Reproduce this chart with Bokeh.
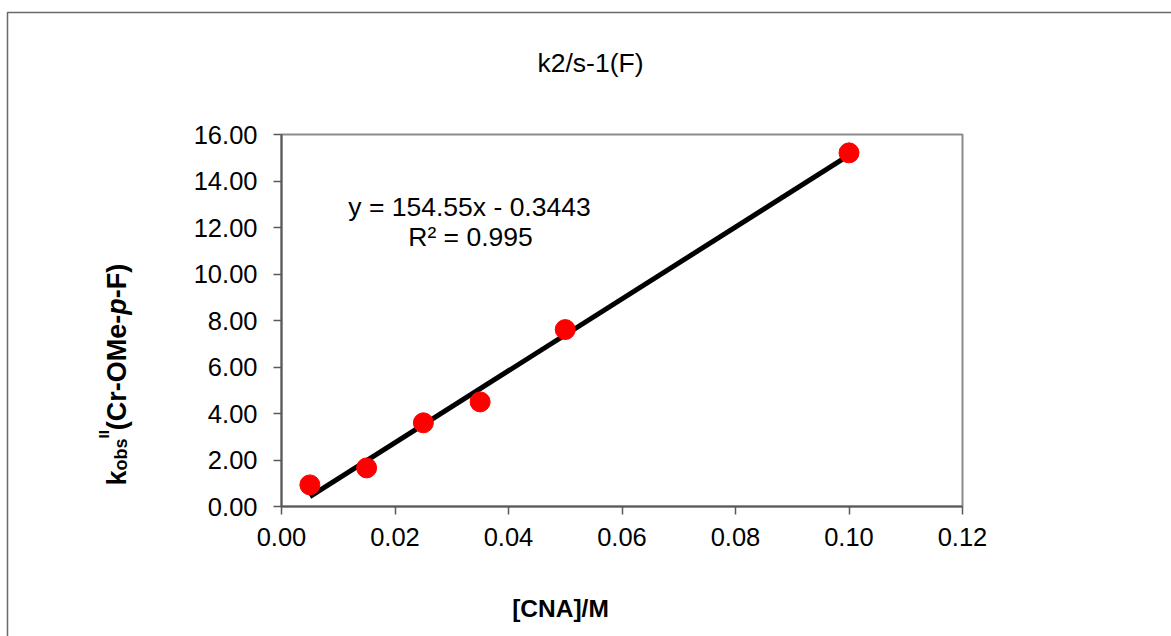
import math

from bokeh.plotting import figure
from bokeh.models import Range1d, Label, BoxAnnotation, FixedTicker, NumeralTickFormatter
from bokeh.embed import file_html
from bokeh.resources import INLINE

# ---- data -------------------------------------------------------------
cna = [0.005, 0.015, 0.025, 0.035, 0.050, 0.100]        # [CNA] / M
kobs = [0.93, 1.66, 3.60, 4.50, 7.61, 15.21]            # k_obs / s^-1

slope = 154.55
intercept = -0.3443
r_squared = 0.995

x_ticks = [0.00, 0.02, 0.04, 0.06, 0.08, 0.10, 0.12]
y_ticks = [0, 2, 4, 6, 8, 10, 12, 14, 16]

title_text = "k2/s-1(F)"
x_label_text = "[CNA]/M"
# y label pieces: (text, font size px, font style, baseline shift px)
y_label_parts = [
    ("k", 27, "bold", 0),
    ("obs", 18, "bold", 4),
    ("II", 15, "bold", -13),
    ("(Cr-OMe-", 27, "bold", 0),
    ("p", 27, "bold italic", 0),
    ("-F)", 27, "bold", 0),
]

# ---- page geometry ----------------------------------------------------
W, H = 1171, 636
FL, FR, FT, FB = 281, 962, 134, 506      # plot area edges in pixels
X0, X1 = 0.0, 0.12
Y0, Y1 = 0.0, 16.0
FONT = "Liberation Sans"

# the drawing frame covers the whole canvas; the axes sit at the plot area
kx = (FR - FL) / (X1 - X0)
ky = (FB - FT) / (Y1 - Y0)
x_range = Range1d(X0 - FL / kx, X1 + (W - FR) / kx)
y_range = Range1d(Y0 - (H - FB) / ky, Y1 + FT / ky)

# advance widths (em) of Arial / Liberation Sans Bold for the label glyphs
BOLD_W = {"k": .556, "o": .611, "b": .611, "s": .556, "I": .278, "(": .333,
          "C": .722, "r": .389, "-": .333, "O": .778, "M": .833, "e": .556,
          "p": .611, "F": .611, ")": .333}


def text_len(t, size):
    return sum(BOLD_W.get(c, .6) for c in t) * size


def canvas_label(x, y, text, **kw):
    """Text placed in canvas pixels (origin top-left)."""
    opts = dict(text_align="center", text_baseline="alphabetic", text_font=FONT,
                text_font_size="26.5px", text_color="black")
    opts.update(kw)
    return Label(x=x, y=y, x_units="canvas", y_units="canvas", text=text, **opts)


p = figure(width=W, height=H, output_backend="svg", toolbar_location=None,
           x_range=x_range, y_range=y_range,
           min_border=0, background_fill_color="white", border_fill_color="white")

p.grid.visible = False
p.outline_line_color = None

# plot area frame (top/right edges lighter than the axes)
p.add_layout(BoxAnnotation(left=X0, right=X1, bottom=Y0, top=Y1,
                           fill_alpha=0, line_color="#8c8c8c", line_alpha=1,
                           line_width=2, level="underlay"))

# outer chart border
p.add_layout(BoxAnnotation(left=7, top=12, right=W + 30, bottom=H + 30,
                           left_units="canvas", right_units="canvas",
                           top_units="canvas", bottom_units="canvas",
                           fill_alpha=0, line_color="#6a6a6a", line_alpha=1,
                           line_width=1.5, level="underlay"))

p.xaxis.fixed_location = Y0
p.yaxis.fixed_location = X0
p.xaxis.bounds = (X0, X1)
p.yaxis.bounds = (Y0, Y1)
p.xaxis.ticker = FixedTicker(ticks=x_ticks)
p.yaxis.ticker = FixedTicker(ticks=y_ticks)
p.axis.formatter = NumeralTickFormatter(format="0.00")
p.axis.major_label_text_font = FONT
p.axis.major_label_text_font_size = "25.5px"
p.axis.major_label_text_color = "black"
p.axis.axis_line_color = "#595959"
p.axis.axis_line_width = 2
p.axis.major_tick_line_color = "#595959"
p.axis.major_tick_line_width = 1.5
p.axis.major_tick_out = 8
p.axis.major_tick_in = 0
p.axis.minor_tick_out = 0
p.axis.minor_tick_in = 0
p.xaxis.major_label_standoff = 13
p.yaxis.major_label_standoff = 16

# linear trend line from the fitted equation
fit_x = [min(cna), max(cna)]
fit_y = [slope * x + intercept for x in fit_x]
p.line(fit_x, fit_y, line_color="black", line_width=5)

# measured points
p.scatter(cna, kobs, size=20, marker="circle", fill_color="#ff0000", line_color="#ff0000")

# title
p.add_layout(canvas_label(590, 62, title_text))

# x axis title
p.add_layout(canvas_label(560, 608, x_label_text, text_font_style="bold",
                          text_font_size="24.5px"))

# regression equation
p.add_layout(canvas_label(469, 206, f"y = {slope}x - {abs(intercept)}"))
p.add_layout(canvas_label(470, 236, f"R\u00b2 = {r_squared}"))

# rotated y axis title, built piece by piece (subscript / superscript / italic)
base_x = 116
cur_y = 485
for txt, size, style, shift in y_label_parts:
    p.add_layout(canvas_label(base_x + shift, cur_y, txt, angle=math.pi / 2,
                              angle_units="rad", text_align="left",
                              text_font_style=style, text_font_size=f"{size}px"))
    cur_y -= text_len(txt, size)

open("out.html", "w").write(file_html(p, INLINE))
